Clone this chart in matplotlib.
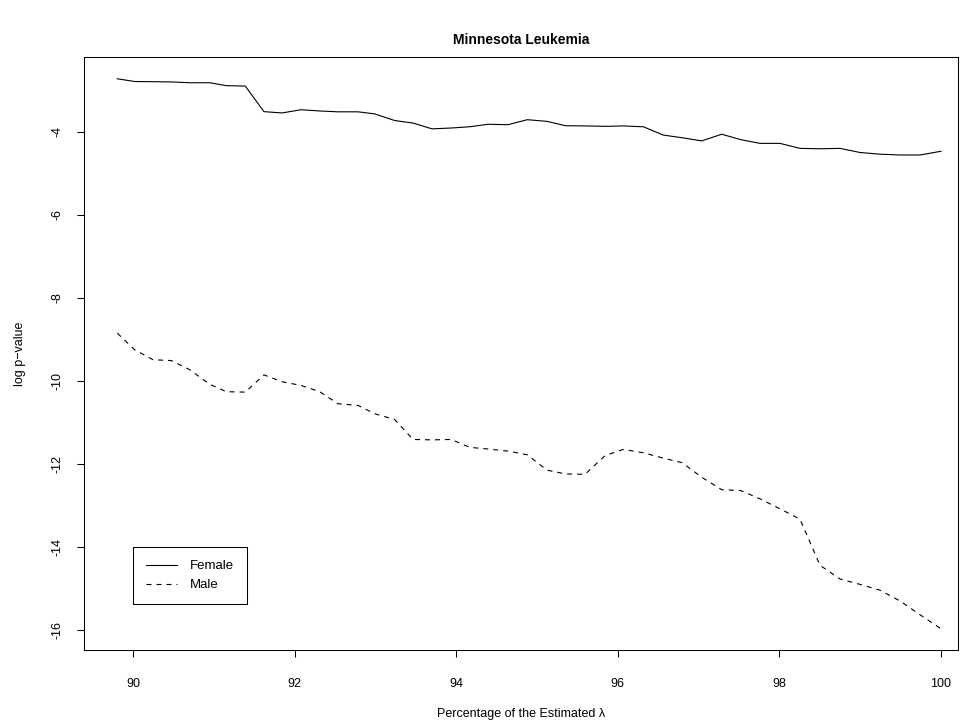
import matplotlib
matplotlib.use('Agg')
import matplotlib.pyplot as plt

plt.rcParams['font.family'] = ['Liberation Sans', 'DejaVu Sans']

# percentage of the estimated lambda
pct = [89.806, 90.021, 90.248, 90.474, 90.702, 90.949, 91.155, 91.390, 91.621, 91.844,
       92.083, 92.311, 92.537, 92.785, 92.991, 93.239, 93.465, 93.700, 93.939, 94.167,
       94.394, 94.641, 94.880, 95.124, 95.355, 95.594, 95.842, 96.068, 96.316, 96.563,
       96.798, 97.038, 97.286, 97.521, 97.760, 98.007, 98.255, 98.502, 98.750, 98.998,
       99.245, 99.493, 99.740, 100.0]

female = [-2.725, -2.79, -2.795, -2.80, -2.82, -2.82, -2.89, -2.90, -3.516, -3.547,
          -3.47, -3.50, -3.52, -3.52, -3.57, -3.73, -3.79, -3.93, -3.91, -3.88,
          -3.82, -3.83, -3.71, -3.75, -3.855, -3.86, -3.87, -3.86, -3.88, -4.08,
          -4.145, -4.22, -4.06, -4.19, -4.28, -4.28, -4.40, -4.41, -4.40, -4.50,
          -4.54, -4.56, -4.56, -4.47]

male = [-8.85, -9.25, -9.49, -9.51, -9.73, -10.08, -10.26, -10.27, -9.855, -10.02,
        -10.11, -10.26, -10.55, -10.59, -10.79, -10.93, -11.41, -11.42, -11.41, -11.60,
        -11.64, -11.69, -11.78, -12.15, -12.24, -12.25, -11.80, -11.65, -11.73, -11.86,
        -11.97, -12.32, -12.62, -12.64, -12.84, -13.08, -13.33, -14.44, -14.77, -14.90,
        -15.04, -15.30, -15.63, -15.97]

xticks = [90, 92, 94, 96, 98, 100]
yticks = [-16, -14, -12, -10, -8, -6, -4]

fig = plt.figure(figsize=(9.66, 7.25), dpi=100)
ax = fig.add_axes([84/966, 75/725, 874/966, 593/725])

ax.plot(pct, female, color='black', lw=0.8, label='Female')
ax.plot(pct, male, color='black', lw=0.8, linestyle=(0, (4.5, 4.5)), label='Male')

ax.set_xlim(89.394, 100.21)
ax.set_ylim(-16.48, -2.2)
ax.set_xticks(xticks)
ax.set_yticks(yticks)
ax.set_yticklabels([str(t) for t in yticks], rotation=90, va='center')
ax.tick_params(direction='out', length=5, width=0.75, labelsize=9, colors='black')
ax.tick_params(axis='x', pad=15)
ax.tick_params(axis='y', pad=10)
for s in ax.spines.values():
    s.set_linewidth(0.75)

ax.set_xlabel('Percentage of the Estimated λ', fontsize=9, labelpad=13)
ax.set_ylabel('log p\u2212value', fontsize=9, labelpad=18)
ax.set_title('Minnesota Leukemia', fontsize=10, fontweight='bold', pad=9)

leg = ax.legend(loc='upper left', bbox_to_anchor=(0.0561, 0.1737), fontsize=9.5,
                handlelength=2.3, handletextpad=1.0, labelspacing=0.5,
                borderpad=1.0, borderaxespad=0, fancybox=False, framealpha=1)
leg.get_frame().set_edgecolor('black')
leg.get_frame().set_linewidth(0.75)

fig.savefig('out.png', dpi=100)
